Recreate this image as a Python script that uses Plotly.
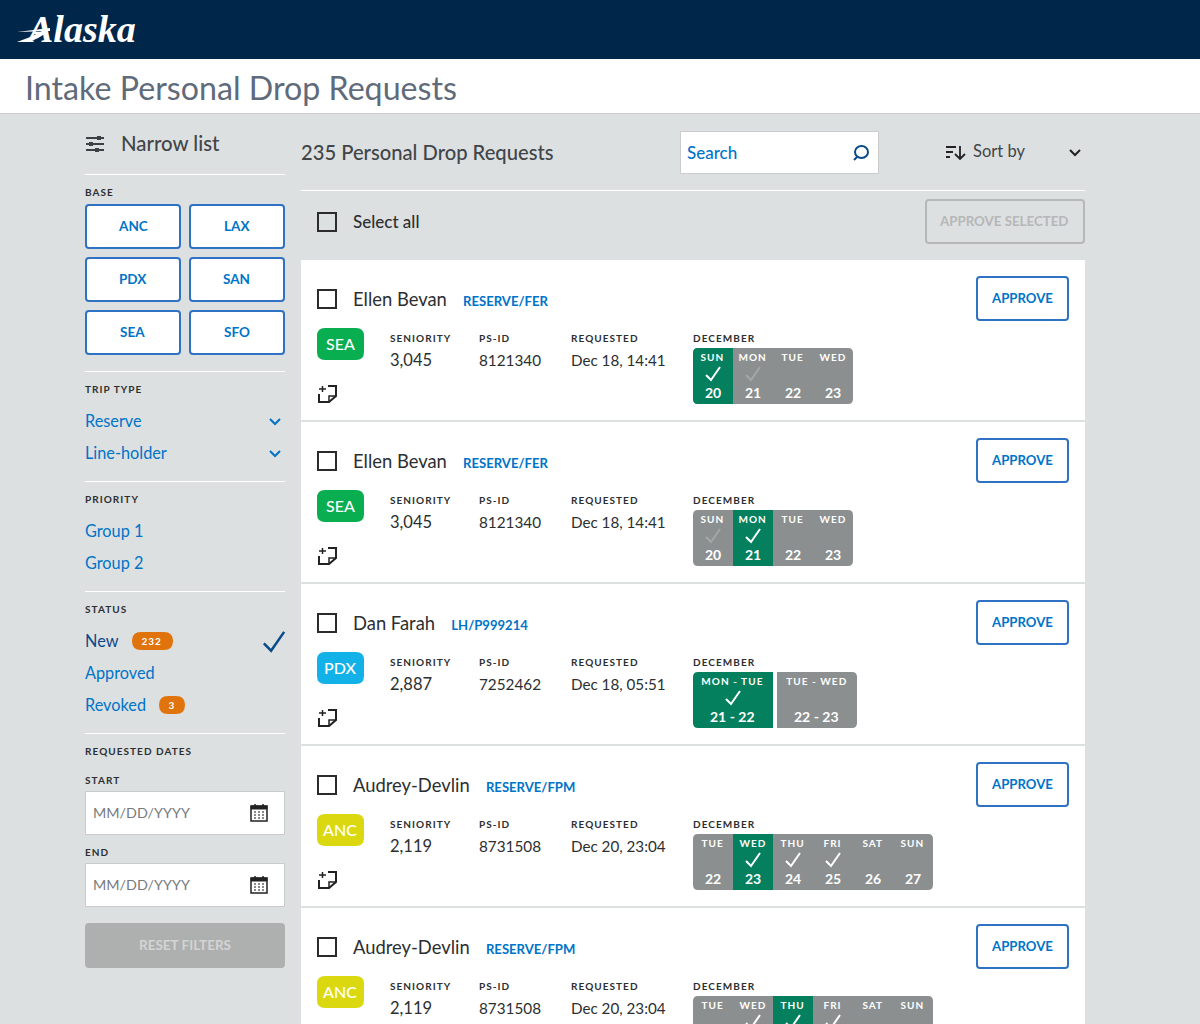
import plotly.graph_objects as go

# sidebar content
base_options = ["ANC", "LAX", "PDX", "SAN", "SEA", "SFO"]
trip_types = ["Reserve", "Line-holder"]
priorities = ["Group 1", "Group 2"]
status_names = ["New", "Approved", "Revoked"]
status_counts = ["232", "", "3"]

# request cards
names = ["Ellen Bevan", "Ellen Bevan", "Dan Farah", "Audrey-Devlin", "Audrey-Devlin"]
tags = ["RESERVE/FER", "RESERVE/FER", "LH/P999214", "RESERVE/FPM", "RESERVE/FPM"]
bases = ["SEA", "SEA", "PDX", "ANC", "ANC"]
seniority = ["3,045", "3,045", "2,887", "2,119", "2,119"]
ps_ids = ["8121340", "8121340", "7252462", "8731508", "8731508"]
requested = ["Dec 18, 14:41", "Dec 18, 14:41", "Dec 18, 05:51", "Dec 20, 23:04", "Dec 20, 23:04"]
day_names = [
    ["SUN", "MON", "TUE", "WED"],
    ["SUN", "MON", "TUE", "WED"],
    ["MON - TUE", "TUE - WED"],
    ["TUE", "WED", "THU", "FRI", "SAT", "SUN"],
    ["TUE", "WED", "THU", "FRI", "SAT", "SUN"],
]
day_dates = [
    ["20", "21", "22", "23"],
    ["20", "21", "22", "23"],
    ["21 - 22", "22 - 23"],
    ["22", "23", "24", "25", "26", "27"],
    ["22", "23", "24", "25", "26", "27"],
]
selected_day = [0, 1, 0, 1, 2]
white_checks = [[0], [1], [0], [1, 2, 3], [1, 2, 3]]
faint_checks = [[1], [0], [], [], []]

NAVY = "#002649"
BG = "#dde0e1"
BLUE = "#0074c8"
DARKBLUE = "#0a4a8a"
BORDER = "#2f72c4"
TEXT = "#2c2f31"
GREEN = "#04805e"
GREY = "#8c8f90"
ORANGE = "#e0730c"
FONT = "Lato"
base_colors = {"SEA": "#08ae4f", "PDX": "#12b2e8", "ANC": "#dcd80f"}

shapes = []
notes = []


def rect(x0, y0, x1, y1, fill, line=None, width=0):
    shapes.append(dict(type="rect", x0=x0, y0=y0, x1=x1, y1=y1, fillcolor=fill,
                       line=dict(color=line or fill, width=width)))


def rrect(x0, y0, x1, y1, r, fill, line=None, width=0, corners=(1, 1, 1, 1)):
    tl, tr, br, bl = [r * c for c in corners]
    p = f"M{x0+tl},{y0} L{x1-tr},{y0} Q{x1},{y0} {x1},{y0+tr} L{x1},{y1-br} Q{x1},{y1} {x1-br},{y1} "
    p += f"L{x0+bl},{y1} Q{x0},{y1} {x0},{y1-bl} L{x0},{y0+tl} Q{x0},{y0} {x0+tl},{y0} Z"
    shapes.append(dict(type="path", path=p, fillcolor=fill, line=dict(color=line or fill, width=width)))


def stroke(p, color, width=2):
    shapes.append(dict(type="path", path=p, line=dict(color=color, width=width)))


def text(x, y, s, size, color=TEXT, anchor="left", weight=400, font=FONT, style="normal"):
    if y > 1024:
        return
    # annotations carry a little padding, pull them back onto the grid
    x = x - 2 if anchor == "left" else x - 0.5
    notes.append(dict(x=x, y=y - 1, text=s, xref="x", yref="y", showarrow=False, xanchor=anchor, yanchor="middle",
                      align=anchor, font=dict(family=font, size=size, color=color, weight=weight, style=style)))


def caption(x, y, s):
    text(x, y + 1, s, 10, weight=700)


def check(cx, cy, color, s=1.0, width=2):
    stroke(f"M{cx-7*s},{cy+1*s} L{cx-2*s},{cy+6*s} L{cx+7*s},{cy-7*s}", color, width)


def chevron(cx, cy, color):
    stroke(f"M{cx-5},{cy-2} L{cx},{cy+3} L{cx+5},{cy-2}", color, 2)


def calendar_icon(cx, cy):
    rect(cx - 8, cy - 7, cx + 8, cy + 8, "white", "#222", 1.5)
    rect(cx - 8, cy - 7, cx + 8, cy - 4, "#222", "#222", 1)
    for tick in (-4, 4):
        stroke(f"M{cx+tick},{cy-9} L{cx+tick},{cy-6}", "#222", 1.5)
    for row in (-1, 2, 5):
        for col in (-4, 0, 4):
            rect(cx + col - 0.7, cy + row - 0.7, cx + col + 0.7, cy + row + 0.7, "#222")


def checkbox(y0):
    rect(318, y0, 336, y0 + 18, "rgba(0,0,0,0)", "#2b2b2b", 2)


# page frame
rect(0, 0, 1200, 59, NAVY)
rect(0, 59, 1200, 113, "white")
rect(0, 113, 1200, 114, "#c9cbcc")
text(26, 30, "Alaska", 38, "white", weight=700, font="Liberation Serif", style="italic")
shapes.append(dict(type="path", fillcolor="white", line=dict(width=0),
                   path="M17,32 L50,28 L50,31 Z"))
shapes.append(dict(type="path", fillcolor="white", line=dict(width=0),
                   path="M17,42 Q30,38 42,31 L48,31 Q38,40 27,42 Z"))
text(25, 88, "Intake Personal Drop Requests", 32.2, "#5f6b7a")

# sidebar
for sy in (138, 144, 150):
    stroke(f"M86,{sy} L104,{sy}", "#3c4043", 2)
for sx, sy in ((99, 138), (91, 144), (97, 150)):
    rect(sx - 2, sy - 2, sx + 2, sy + 2, "#3c4043")
text(121, 144, "Narrow list", 20.4, "#414548", weight=500)

for ly in (174, 371, 481, 591, 733):
    rect(85, ly, 285, ly + 1, "white")

caption(85, 192, "BASE")
for i, code in enumerate(base_options):
    col, row = i % 2, i // 2
    x0 = 86 + col * 104
    y0 = 205 + row * 53
    rrect(x0, y0, x0 + 94, y0 + 43, 3, "white", BORDER, 2)
    text(x0 + 47, y0 + 22, code, 13.5, BLUE, "center", 700)

caption(85, 389, "TRIP TYPE")
for i, t in enumerate(trip_types):
    text(85, 421 + i * 32, t, 16.3, BLUE)
    chevron(275, 421 + i * 32, BLUE)

caption(85, 499, "PRIORITY")
for i, p in enumerate(priorities):
    text(85, 531 + i * 32, p, 16.3, BLUE)

caption(85, 609, "STATUS")
for i, s in enumerate(status_names):
    yy = 641 + i * 32
    text(85, yy, s, 16.3, DARKBLUE if i == 0 else BLUE)
    if status_counts[i]:
        left = 132 if i == 0 else 159
        right = 173 if i == 0 else 185
        rrect(left, yy - 9, right, yy + 9, 9, ORANGE)
        text((left + right) / 2, yy + 1, status_counts[i], 10, "white", "center", 700)
check(274, 642, DARKBLUE, 1.45, 2.5)

caption(85, 751, "REQUESTED DATES")
for label, ly in (("START", 780), ("END", 852)):
    caption(85, ly, label)
    rect(85.5, ly + 11.5, 284.5, ly + 54.5, "white", "#c9cbcc", 1)
    text(93, ly + 33, "MM/DD/YYYY", 14.3, "#777b7e")
    calendar_icon(259, ly + 33)
rrect(85, 923, 285, 968, 4, "#aeafaf")
text(185, 946, "RESET FILTERS", 13.5, "#d3d4d4", "center", 700)

# list header
text(301, 153, "235 Personal Drop Requests", 20.2, "#414548", weight=500)
rect(680.5, 131.5, 878.5, 173.5, "white", "#c9cbcc", 1)
text(687, 153, "Search", 17, BLUE, weight=500)
shapes.append(dict(type="circle", x0=855, y0=146, x1=868, y1=158, line=dict(color=DARKBLUE, width=2)))
stroke("M857,157 L854,160", DARKBLUE, 2)
stroke("M946,147 L956,147 M946,152 L953,152 M946,157 L950,157", "#222", 2)
stroke("M960,146 L960,159 M955,154 L960,159 L965,154", "#222", 1.8)
text(973, 152, "Sort by", 16.5, "#414548")
chevron(1075, 152, "#222")
rect(301, 190, 1085, 191, "white")
checkbox(213)
text(353, 222, "Select all", 17, weight=500)
rrect(926, 200, 1084, 243, 3, BG, "#b5b7b8", 2)
text(1004, 222, "APPROVE SELECTED", 13.3, "#b5b7b8", "center", 700)

# request cards
for c in range(len(names)):
    t = 260 + c * 162
    rect(301, t, 1085, min(t + 160, 1024), "white")
    checkbox(t + 30)
    tag = f"<span style='font-size:8px'>&nbsp;</span><span style='font-size:13.1px;color:{BLUE}'><b>{tags[c]}</b></span>"
    text(353, t + 39.5, f"{names[c]}&nbsp;&nbsp;&nbsp;{tag}", 18.4)
    rrect(317, t + 68, 364, t + 100, 8, base_colors[bases[c]])
    text(340.5, t + 84, bases[c], 16, "white", "center", 500)

    caption(390, t + 78, "SENIORITY")
    text(390, t + 101, seniority[c], 16.5)
    caption(479, t + 78, "PS-ID")
    text(479, t + 101, ps_ids[c], 15.3)
    caption(571, t + 78, "REQUESTED")
    text(571, t + 101, requested[c], 15.2)
    caption(693, t + 78, "DECEMBER")

    if t + 125 < 1024:
        # add-note icon
        stroke(f"M328,{t+126} L336,{t+126} L336,{t+136} L329,{t+142} L319,{t+142} L319,{t+134}", "#222", 2)
        stroke(f"M329,{t+142} L329,{t+136} L336,{t+136}", "#222", 1.5)
        stroke(f"M322.5,{t+126} L322.5,{t+132} M319,{t+129} L326,{t+129}", "#222", 1.5)

    # calendar strip: wide chips are separate, single days are joined
    n = len(day_names[c])
    wide = n == 2
    cell = 80 if wide else 40
    gap = 4 if wide else 0
    y0, y1 = t + 88, t + 144
    if not wide:
        rrect(693, y0, 693 + n * cell, y1, 5, GREY)
    for d in range(n):
        x0 = 693 + d * (cell + gap)
        x1 = x0 + cell
        if d == selected_day[c]:
            corners = (1 if d == 0 else 0, 0, 0, 1 if d == 0 else 0)
            rrect(x0, y0, x1, y1, 5, GREEN, corners=corners)
        elif wide:
            rrect(x0, y0, x1, y1, 5, GREY, corners=(0, 1, 1, 0))
        cx = (x0 + x1) / 2
        text(cx, t + 97.5, day_names[c][d], 10, "white", "center", 700)
        text(cx, t + 133, day_dates[c][d], 14, "white", "center", 700)
        if d in white_checks[c]:
            check(cx, t + 114, "white")
        if d in faint_checks[c]:
            check(cx, t + 114, "#a4a7a8")

    rrect(977, t + 17, 1068, t + 60, 3, "white", BORDER, 2)
    text(1022.5, t + 39, "APPROVE", 13.2, BLUE, "center", 700)

fig = go.Figure()
fig.update_layout(
    width=1200, height=1024, margin=dict(l=0, r=0, t=0, b=0),
    paper_bgcolor=BG, plot_bgcolor=BG, showlegend=False,
    xaxis=dict(range=[0, 1200], visible=False, fixedrange=True),
    yaxis=dict(range=[1024, 0], visible=False, fixedrange=True),
    shapes=shapes, annotations=notes,
)

# small caps captions have wide tracking in the original
spacing = """
document.body.style.margin = '0';
document.querySelectorAll('.annotation-text').forEach(function (el) {
  if (el.style.fontSize === '10px') { el.style.letterSpacing = '1.05px'; }
});
"""
fig.write_html("out.html", post_script=spacing, config=dict(displayModeBar=False))
